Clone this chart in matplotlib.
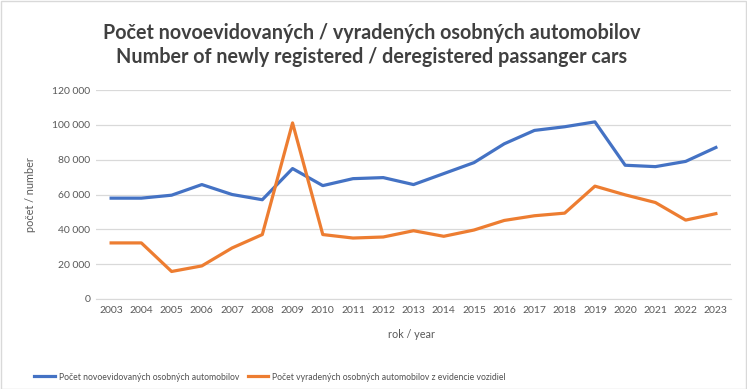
import matplotlib
matplotlib.use("Agg")
import matplotlib.pyplot as plt
from matplotlib.patches import Rectangle

years = [str(y) for y in range(2003, 2024)]
new_reg = [57900, 57900, 59600, 65700, 60000, 57000, 74900, 65100, 69100, 69700, 65700,
           72000, 78300, 89100, 96800, 98900, 101700, 76800, 76000, 79000, 87000]
dereg = [32200, 32200, 15800, 19000, 29300, 37000, 101100, 37000, 35000, 35600, 39200,
         36000, 39600, 45100, 47800, 49300, 64800, 59800, 55400, 45300, 49000]
yticks = [0, 20000, 40000, 60000, 80000, 100000, 120000]
ytick_labels = ["0", "20 000", "40 000", "60 000", "80 000", "100 000", "120 000"]
series_names = ["Počet novoevidovaných osobných automobilov",
                "Počet vyradených osobných automobilov z evidencie vozidiel"]
title = "Počet novoevidovaných / vyradených osobných automobilov\nNumber of newly registered / deregistered passanger cars"

plt.rcParams['font.family'] = ['Lato', 'DejaVu Sans']
W, H = 747, 389
fig = plt.figure(figsize=(W/100, H/100), dpi=100)
ax = fig.add_axes([96/W, 1-299/H, (731-96)/W, (299-90)/H])

x = list(range(len(years)))
ax.plot(x, new_reg, color="#4472C4", lw=2.3, label=series_names[0], solid_joinstyle='round')
ax.plot(x, dereg, color="#ED7D31", lw=2.3, label=series_names[1], solid_joinstyle='round')

ax.set_xlim(-0.5, len(years)-0.5)
ax.set_ylim(0, 120000)
ax.set_yticks(yticks)
ax.set_yticklabels(ytick_labels)
ax.set_xticks(x)
ax.set_xticklabels(years)
ax.tick_params(axis='both', length=0, labelsize=7.5, labelcolor="#595959")
ax.tick_params(axis='y', pad=4)
ax.tick_params(axis='x', pad=5)
ax.grid(axis='y', color="#D9D9D9", lw=0.9)
ax.set_axisbelow(True)
for s in ['top', 'right', 'left']:
    ax.spines[s].set_visible(False)
ax.spines['bottom'].set_color("#D9D9D9")

fig.text(30/W, 1-195/H, "počet / number", rotation=90, ha='center', va='center',
         fontsize=7.8, color="#595959")
fig.text(412/W, 1-334/H, "rok / year", ha='center', va='center', fontsize=7.8, color="#595959")
fig.text(372/W, 1-45/H, title, ha='center', va='center', fontsize=14.2, fontweight='bold',
         color="#404040", linespacing=1.3)

leg = fig.legend(loc='center left', bbox_to_anchor=(34/W, 1-377/H), ncol=2, frameon=False,
                 fontsize=6.2, handlelength=2.4, handletextpad=0.45, columnspacing=1.0,
                 borderaxespad=0, borderpad=0)
for t in leg.get_texts():
    t.set_color("#505050")

fig.patches.append(Rectangle((0.5/W, 0.5/H), 1-1.5/W, 1-1.5/H, transform=fig.transFigure,
                             fill=False, edgecolor="#D9D9D9", lw=1))
fig.savefig("out.png", dpi=100)
